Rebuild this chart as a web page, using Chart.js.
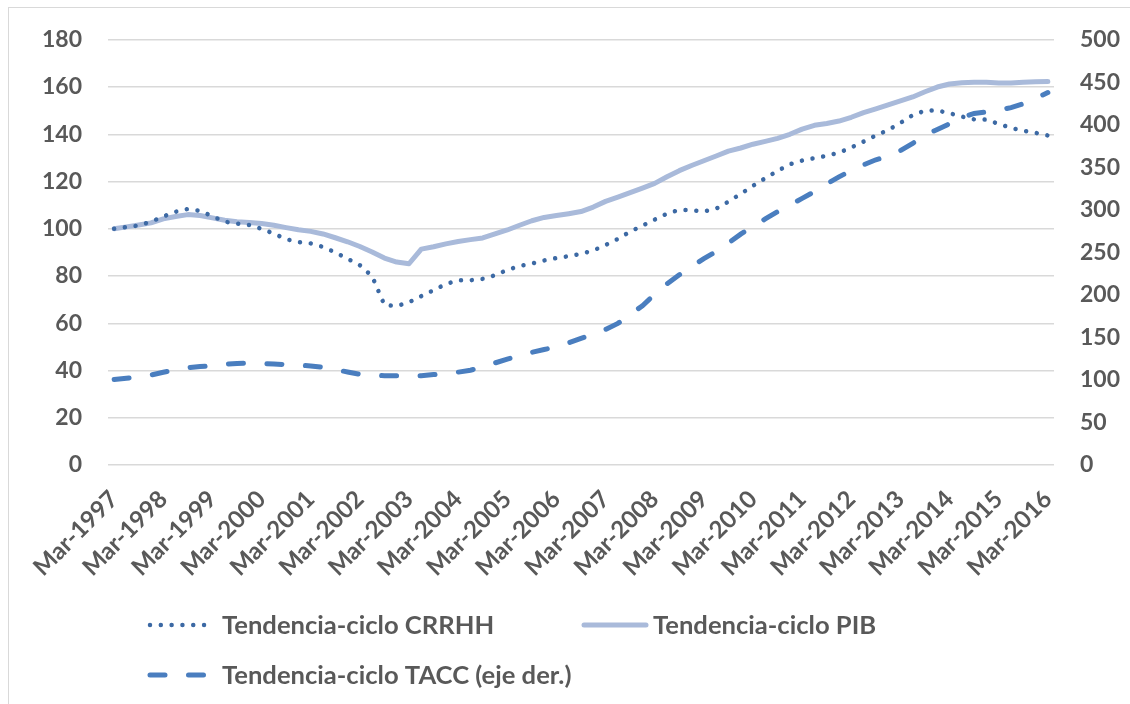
<!DOCTYPE html>
<html>
<head>
<meta charset="utf-8">
<script src="https://cdn.jsdelivr.net/npm/chart.js@4/dist/chart.umd.min.js"></script>
<style>
  html, body { margin: 0; padding: 0; background: #fff; }
  #wrap { position: relative; width: 1130px; height: 704px; overflow: hidden; }
  #frame { position: absolute; left: 8px; top: 7px; width: 1300px; height: 900px; border: 1px solid #d9d9d9; box-sizing: border-box; }
  canvas { position: absolute; left: 0; top: 0; }
</style>
</head>
<body>
<div id="wrap">
  <div id="frame"></div>
  <canvas id="c" width="1130" height="704"></canvas>
</div>
<script>
// ---- categories (quarterly, 1997Q1 .. 2016Q1) ----
const years = [1997,1998,1999,2000,2001,2002,2003,2004,2005,2006,2007,2008,2009,2010,2011,2012,2013,2014,2015,2016];
const months = ['Mar','Jun','Sep','Dec'];
const categories = [];
for (const y of years) for (const m of months) categories.push(m + '-' + y);
categories.length = 77;

// ---- series ----
const crrhh = [100.0,100.7,101.4,103.0,105.2,107.2,108.4,107.6,105.3,103.0,102.2,101.6,100.0,97.9,95.6,94.4,
  93.8,92.3,90.0,87.3,84.6,79.9,67.7,67.3,68.9,71.5,74.0,76.6,78.2,78.2,78.8,80.3,
  82.6,84.2,85.3,86.6,87.6,88.4,89.4,90.8,93.1,95.7,98.8,101.3,103.9,106.4,108.0,107.9,
  107.3,108.5,111.5,114.8,118.2,121.4,124.5,127.3,128.9,129.9,130.9,132.2,134.4,136.9,139.5,141.8,
  144.8,148.1,150.0,150.1,148.9,147.5,146.3,146.2,144.4,142.7,141.5,140.6,139.5];
const pib = [100.0,100.8,101.6,102.5,104.2,105.2,106.0,105.6,104.6,103.6,103.0,102.7,102.2,101.5,100.5,99.6,
  98.9,97.8,96.2,94.5,92.5,90.2,87.6,85.9,85.2,91.4,92.4,93.6,94.6,95.4,96.1,97.8,
  99.5,101.5,103.4,104.8,105.6,106.4,107.3,109.2,111.6,113.4,115.3,117.2,119.2,122.0,124.6,126.8,
  128.8,130.8,132.9,134.2,135.8,137.0,138.3,140.0,142.2,143.8,144.6,145.6,147.2,149.2,150.8,152.5,
  154.1,155.8,158.0,160.0,161.3,161.8,162.0,162.0,161.7,161.7,162.0,162.2,162.3];
const tacc = [100.5,102.0,103.8,105.7,109.0,112.0,114.3,115.7,117.0,118.4,119.4,120.0,119.4,118.7,118.0,117.4,
  116.5,114.9,112.2,109.4,106.6,105.5,105.0,105.0,105.0,105.0,106.3,107.8,109.2,111.5,115.2,120.0,
  124.5,128.8,132.5,135.8,139.0,143.8,149.0,154.0,159.5,166.5,176.8,187.3,200.7,213.0,223.7,233.3,
  242.7,251.0,261.0,271.5,280.5,289.4,297.9,305.6,313.5,321.5,330.5,338.8,346.5,353.0,358.9,363.0,
  369.7,378.2,388.0,394.5,401.3,408.4,413.4,415.2,417.0,420.3,424.8,431.0,438.0];

// ---- axis ticks ----
const leftTicks = [0,20,40,60,80,100,120,140,160,180];
const rightTicks = [0,50,100,150,200,250,300,350,400,450,500];

const seriesNames = ['Tendencia-ciclo CRRHH', 'Tendencia-ciclo PIB', 'Tendencia-ciclo TACC (eje der.)'];

const textColor = '#595959';
const tickFont = { family: 'Lato', size: 23, weight: 'bold' };
const xTickFont = { family: 'Lato', size: 24, weight: 'bold' };
const legendFontSize = 25.6;

const legendPlugin = {
  id: 'customLegend',
  afterDraw(chart) {
    const ctx = chart.ctx;
    const items = [
      { ds: 0, x1: 150, x2: 206, y: 625, tx: 222 },
      { ds: 1, x1: 584, x2: 646, y: 625, tx: 653 },
      { ds: 2, x1: 150, x2: 206, y: 675, tx: 222 }
    ];
    ctx.save();
    for (const it of items) {
      const d = chart.data.datasets[it.ds];
      ctx.beginPath();
      ctx.strokeStyle = d.borderColor;
      ctx.lineWidth = d.borderWidth;
      ctx.lineCap = d.borderCapStyle || 'butt';
      ctx.setLineDash(d.borderDash || []);
      ctx.lineDashOffset = 0;
      ctx.moveTo(it.x1, it.y);
      ctx.lineTo(it.x2, it.y);
      ctx.stroke();
      ctx.setLineDash([]);
      ctx.fillStyle = textColor;
      ctx.font = 'bold ' + legendFontSize + 'px Lato';
      ctx.textBaseline = 'middle';
      ctx.textAlign = 'left';
      ctx.fillText(d.label, it.tx, it.y + 1);
    }
    ctx.restore();
  }
};

new Chart(document.getElementById('c'), {
  type: 'line',
  data: {
    labels: categories,
    datasets: [
      { label: seriesNames[0], data: crrhh, yAxisID: 'y', borderColor: '#3C69A4', borderWidth: 4.5,
        borderDash: [0.01, 10.8], borderCapStyle: 'round', pointRadius: 0, tension: 0, order: 2 },
      { label: seriesNames[1], data: pib, yAxisID: 'y', borderColor: '#A9BADA', borderWidth: 5,
        borderCapStyle: 'round', borderJoinStyle: 'round', pointRadius: 0, tension: 0, order: 3 },
      { label: seriesNames[2], data: tacc, yAxisID: 'y2', borderColor: '#4A7EBF', borderWidth: 5,
        borderDash: [15, 23.5], borderCapStyle: 'round', pointRadius: 0, tension: 0, order: 1 }
    ]
  },
  options: {
    responsive: false,
    devicePixelRatio: 1,
    animation: false,
    events: [],
    layout: { padding: { top: 37, left: 0, right: 0, bottom: 0 } },
    plugins: { legend: { display: false }, tooltip: { enabled: false } },
    scales: {
      x: {
        offset: true,
        grid: { display: false },
        border: { display: false },
        ticks: {
          autoSkip: false, minRotation: 45, maxRotation: 45, padding: 12,
          color: textColor, font: xTickFont,
          callback: function(v, i) { return i % 4 === 0 ? categories[i] : ''; }
        },
        afterFit(s) { s.height = 239; }
      },
      y: {
        position: 'left', min: 0, max: 180,
        afterBuildTicks(s) { s.ticks = leftTicks.map(v => ({ value: v })); },
        grid: { color: '#D9D9D9', lineWidth: 1.5, drawTicks: false },
        border: { display: false },
        ticks: { padding: 26, color: textColor, font: tickFont },
        afterFit(s) { s.width = 108; }
      },
      y2: {
        position: 'right', min: 0, max: 500,
        afterBuildTicks(s) { s.ticks = rightTicks.map(v => ({ value: v })); },
        grid: { display: false, drawTicks: false },
        border: { display: false },
        ticks: { padding: 26, color: textColor, font: tickFont },
        afterFit(s) { s.width = 76; }
      }
    }
  },
  plugins: [legendPlugin]
});
</script>
</body>
</html>
